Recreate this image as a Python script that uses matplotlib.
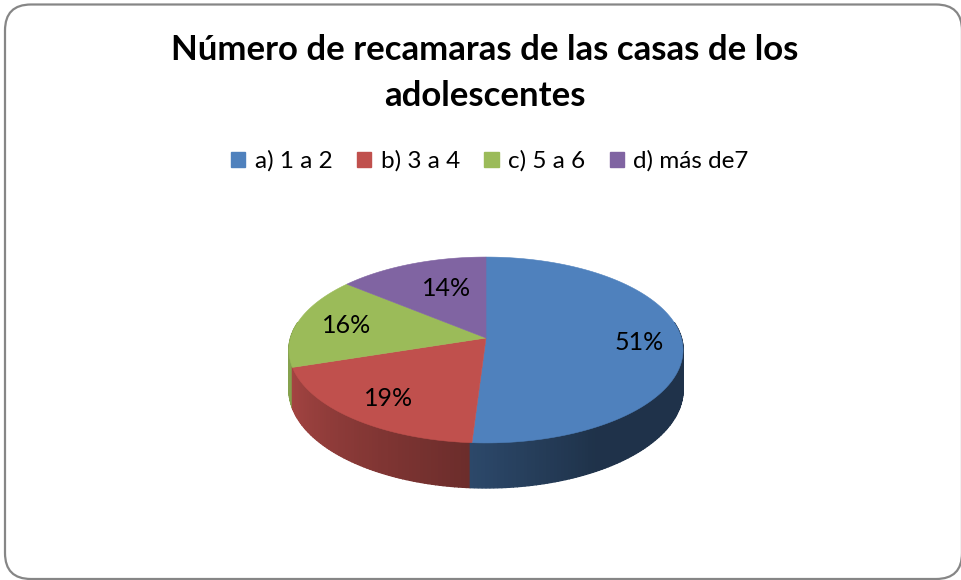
import numpy as np
import matplotlib
matplotlib.use("Agg")
import matplotlib.pyplot as plt
from matplotlib.patches import FancyBboxPatch, Patch

title = "Número de recamaras de las casas de los\nadolescentes"
categories = ["a) 1 a 2", "b) 3 a 4", "c) 5 a 6", "d) más de7"]
values = [51, 19, 16, 14]
colors = ["#4F81BD", "#C0504D", "#9BBB59", "#8064A2"]
label_radius = [0.78, 0.75, 0.74, 0.6]

plt.rcParams["font.family"] = ["Lato", "DejaVu Sans"]

# pie geometry, in pixels of the picture
cx, cy = 486, 338
sx, sy = 195.4, 91.4
k = 0.129
depth = 39.2
label_shift = [(0, 2), (0, 2), (0, 0), (7, -3)]


def project(theta, r=1.0):
    t = np.radians(theta)
    x = r * np.cos(t)
    y = r * np.sin(t)
    w = 1 + k * y
    return cx + sx * x / w, cy - sy * y / w, w


def side_shade(theta):
    return np.interp(theta, [198, 266, 300, 370], [0.86, 0.56, 0.39, 0.39])


fig = plt.figure(figsize=(9.62, 5.8), dpi=100)
ax = fig.add_axes([0, 0, 1, 1])
ax.set_xlim(0, 962)
ax.set_ylim(580, 0)
ax.axis("off")

frame = FancyBboxPatch((5, 4.5), 957, 574.5, boxstyle="round,pad=0,rounding_size=26",
                       facecolor="white", edgecolor="#868686", linewidth=1.6)
ax.add_patch(frame)

# slices run clockwise from 12 o'clock
shares = np.array(values) / sum(values) * 360
ends = 90 - np.cumsum(shares)
starts = ends + shares

# side wall
step = 1.0
for a in np.arange(170, 370, step):
    mid = a + step / 2
    idx = 0
    for i in range(len(values)):
        if (starts[i] - mid) % 360 <= shares[i]:
            idx = i
    col = np.array(matplotlib.colors.to_rgb(colors[idx])) * side_shade(mid)
    th = np.linspace(a, a + step, 3)
    px, py, w = project(th)
    ax.fill(np.r_[px, px[::-1]], np.r_[py, (py + depth / w)[::-1]],
            color=col, linewidth=1.0)

# top face
for i in range(len(values)):
    th = np.linspace(ends[i], starts[i], 120)
    px, py, w = project(th)
    ax.fill(np.r_[cx, px], np.r_[cy, py], color=colors[i], linewidth=0.4)

for i in range(len(values)):
    px, py, w = project((starts[i] + ends[i]) / 2, label_radius[i])
    ax.text(px + label_shift[i][0], py + label_shift[i][1], f"{values[i]}%", fontsize=18,
            color="black", ha="center", va="center")

ax.text(485, 73, title, fontsize=25, fontweight="bold", ha="center", va="center",
        linespacing=1.5)

handles = [Patch(color=c, label=n) for c, n in zip(colors, categories)]
leg = ax.legend(handles=handles, ncol=4, loc="center", bbox_to_anchor=(490 / 962, 1 - 161 / 580),
                frameon=False, fontsize=17.5, handlelength=0.58, handleheight=0.58,
                handletextpad=0.4, columnspacing=1.0)

fig.savefig("out.png", dpi=100)
